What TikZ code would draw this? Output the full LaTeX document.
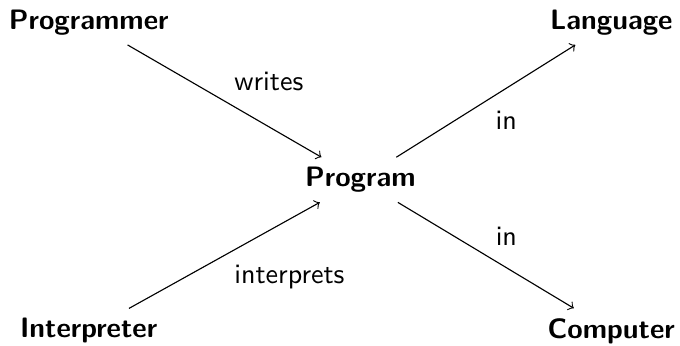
\documentclass[tikz,border=0pt]{standalone}
\usepackage{tikz}
\usetikzlibrary{positioning}

\begin{document}
\begin{tikzpicture}[term/.style={font=\sffamily\bfseries},
		verb/.style={font=\sffamily},
		>=to]
		\useasboundingbox (0,0) rectangle (8.51,4.32);

		\node[term]	at (4.51,2.07)	(program)		{Program};
		\node[term]	at (1.11,4.04)	(programmer)	{Programmer};
		\node[term]	at (1.11,0.18)	(interpreter)	{Interpreter};
		\node[term]	at (7.65,4.04)	(language)		{Language};
		\node[term]	at (7.65,0.18)	(computer)		{Computer};

		\draw[->] (programmer) -- node[verb,above right] {writes} (program);
		\draw[->] (interpreter) -- node[verb,below right] {interprets} (program);
		\draw[->] (program) -- node[verb,below right] {in} (language);
		\draw[->] (program) -- node[verb,above right] {in} (computer);
	\end{tikzpicture}
\end{document}
